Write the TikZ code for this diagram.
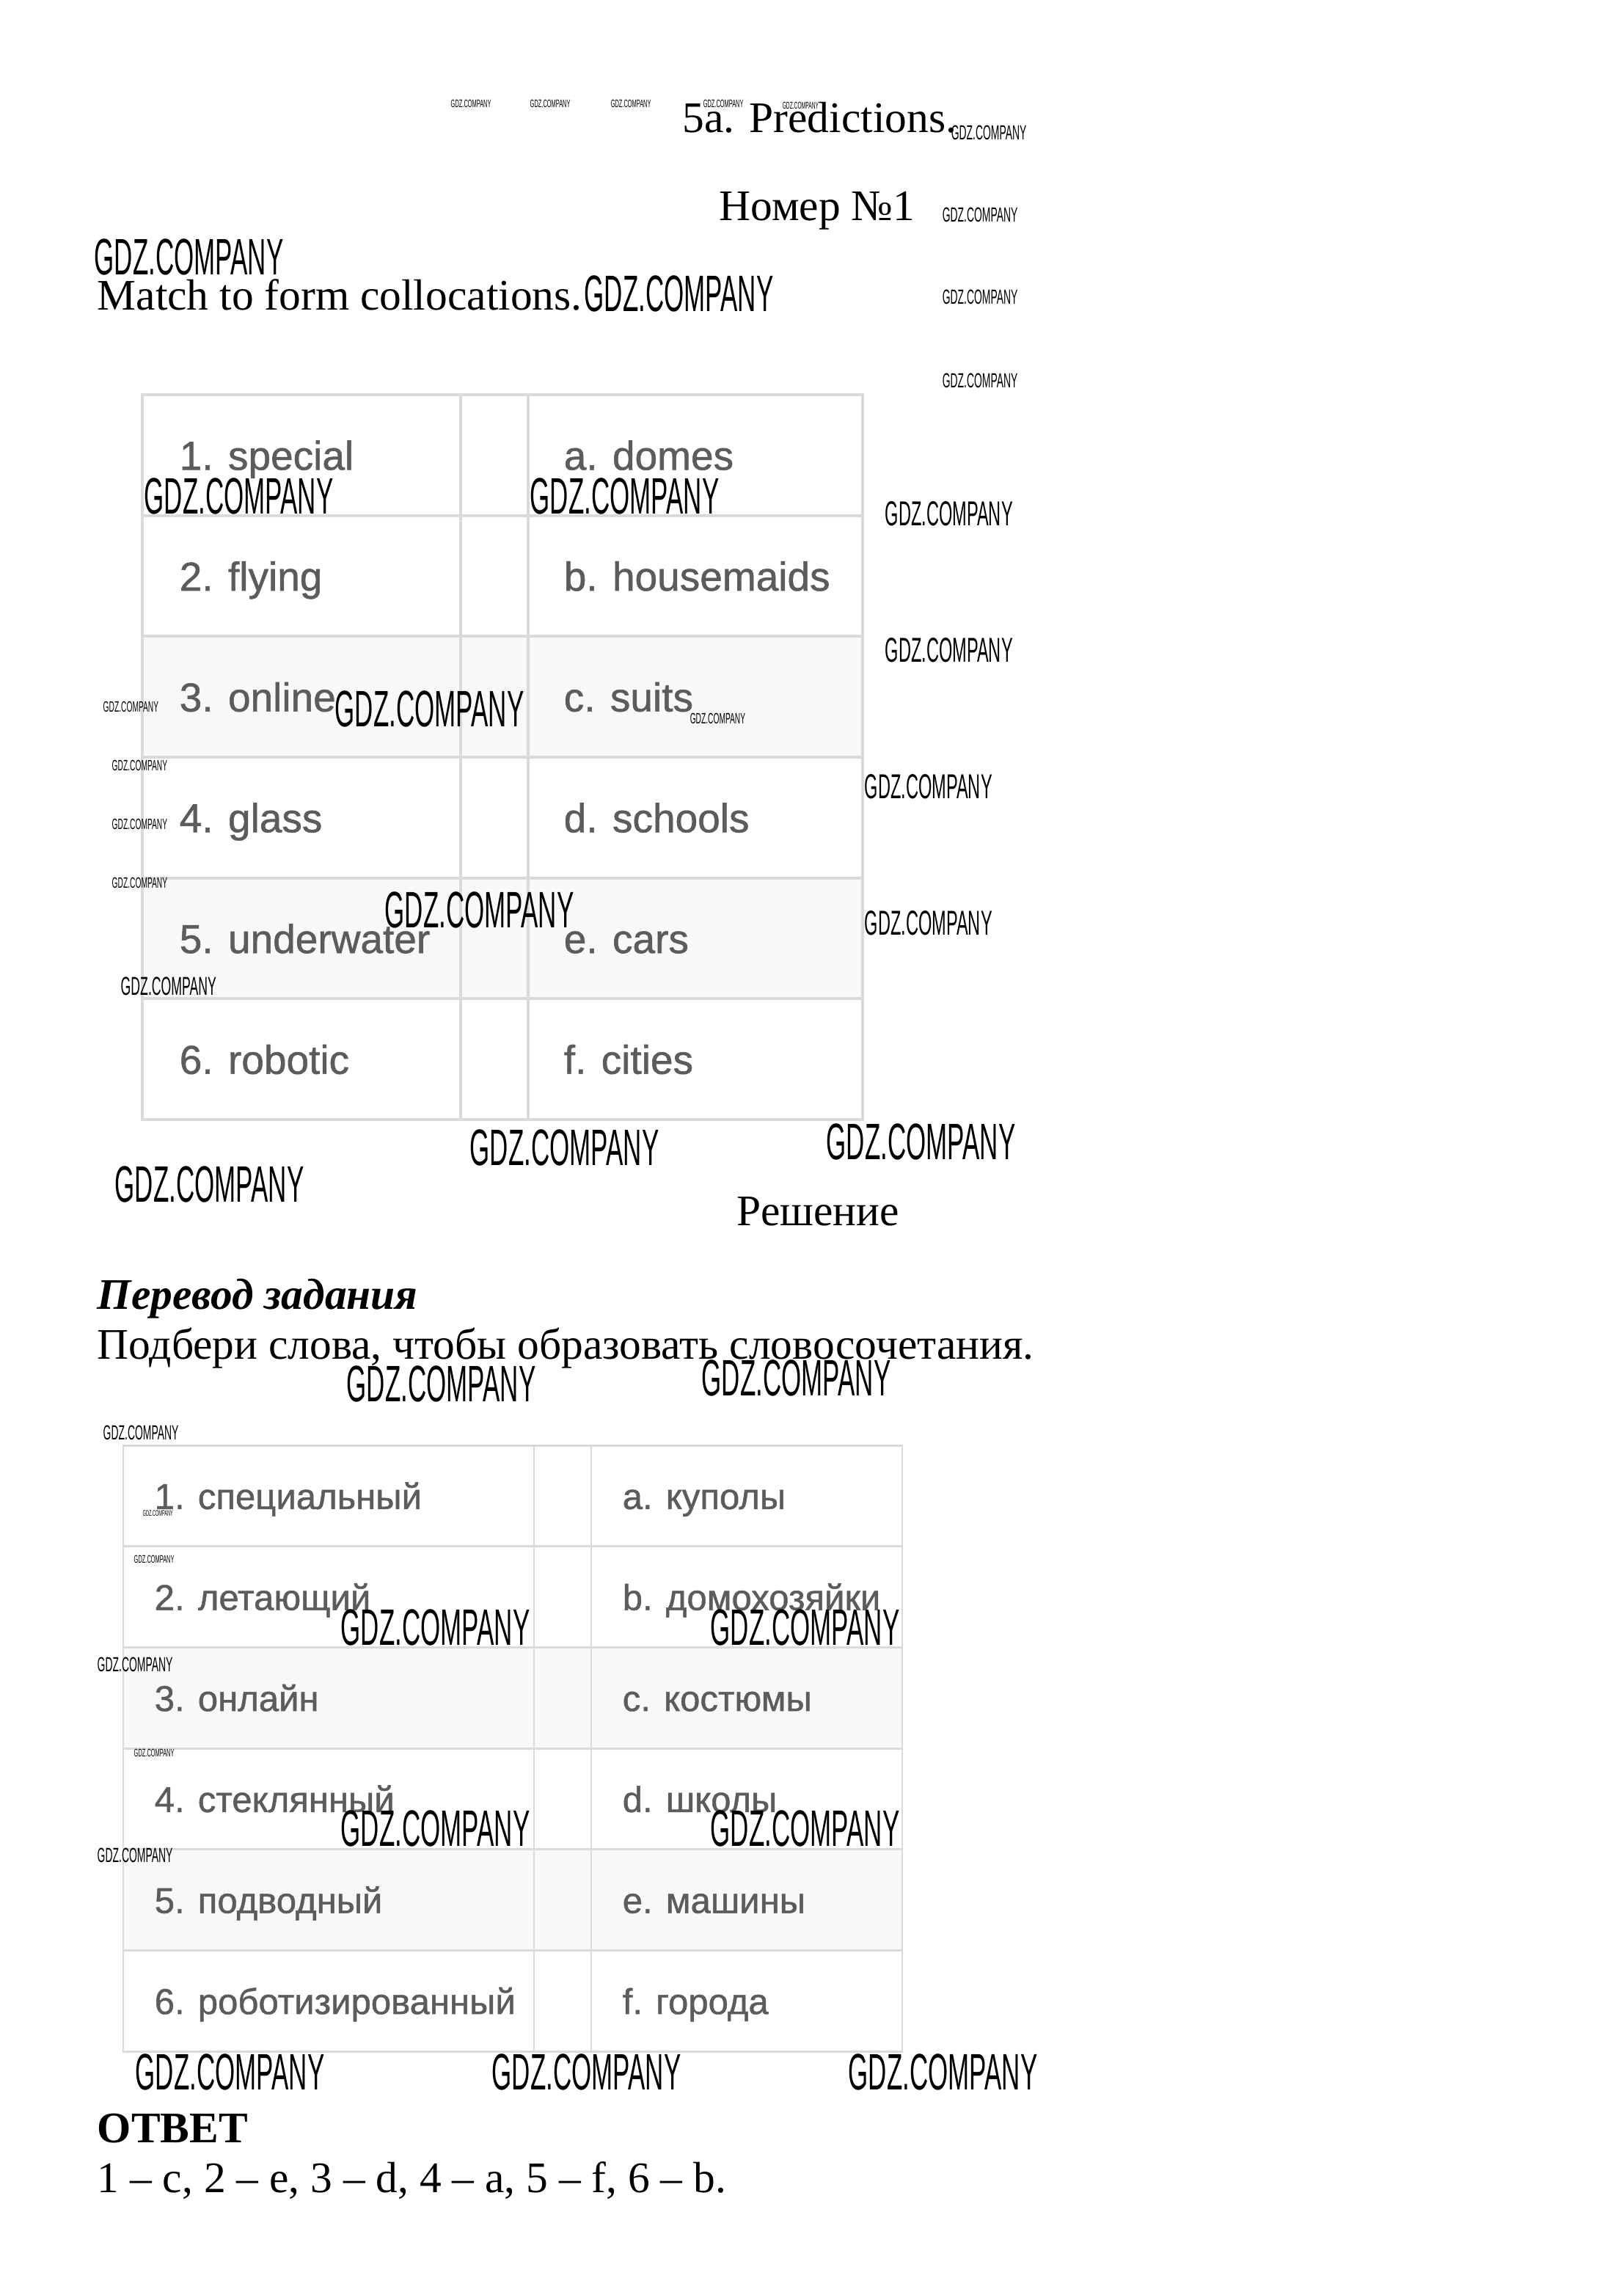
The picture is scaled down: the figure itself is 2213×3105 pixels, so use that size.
\documentclass[tikz,border=0pt]{standalone}
\usepackage{fontspec}
\setmainfont{Liberation Serif}
\newfontfamily\cellfont[FakeBold=1]{Liberation Sans}
\newfontfamily\wmfont[FakeStretch=0.5]{Liberation Sans}
\definecolor{rulegray}{HTML}{DADADA}
\definecolor{shadegray}{HTML}{F8F8F8}
\definecolor{celltext}{HTML}{5C5C5C}

\tikzset{
	body/.style={anchor=base west, inner sep=0pt, font=\fontsize{16}{19}\selectfont},
	wm/.style={anchor=base west, inner sep=0pt, font=\wmfont\fontsize{#1}{#1}\selectfont},
	cellA/.style={anchor=base west, inner sep=0pt, text=celltext, font=\cellfont\fontsize{14.8}{17}\selectfont},
	cellB/.style={anchor=base west, inner sep=0pt, text=celltext, font=\cellfont\fontsize{13.2}{16}\selectfont},
}

\begin{document}
\begin{tikzpicture}[x=0.269pt, y=-0.269pt]

	\useasboundingbox[fill=white] (0,0) rectangle (2213,3105);

	% headings
	\node[body] (title) at (930,180) {5a. Predictions.};
	\node[body] (number) at (980,300) {Номер №1};
	\node[body] (task) at (132,422) {Match to form collocations.};

	% first table
	\fill[shadegray] (194,867.3) rectangle (1176,1032);
	\fill[shadegray] (194,1196.7) rectangle (1176,1361.3);
	\draw[rulegray, line width=1.1pt] (194,538) rectangle (1176,1526);
	\draw[rulegray, line width=1.1pt] (628,538) -- (628,1526);
	\draw[rulegray, line width=1.1pt] (720,538) -- (720,1526);
	\foreach \i in {1,...,5}
		\draw[rulegray, line width=1.1pt] (194,{538+\i*164.67}) -- (1176,{538+\i*164.67});
	\foreach \l/\r [count=\i] in {1. special/a. domes, 2. flying/b. housemaids, 3. online/c. suits,
		4. glass/d. schools, 5. underwater/e. cars, 6. robotic/f. cities}{
		\node[cellA] (en\i) at (244,{538+(\i-0.5)*164.67+20}) {\l};
		\node[cellA] (enr\i) at (768,{538+(\i-0.5)*164.67+20}) {\r};
	}

	% solution
	\node[body] (solution) at (1004,1670) {Решение};
	\node[body, font=\fontsize{16}{19}\selectfont\bfseries\itshape] (transhead) at (132,1784) {Перевод задания};
	\node[body] (trans) at (132,1852) {Подбери слова, чтобы образовать словосочетания.};

	% second table
	\fill[shadegray] (168,2245.3) rectangle (1230,2383);
	\fill[shadegray] (168,2520.7) rectangle (1230,2658.3);
	\draw[rulegray, line width=0.8pt] (168,1970) rectangle (1230,2796);
	\draw[rulegray, line width=0.8pt] (728,1970) -- (728,2796);
	\draw[rulegray, line width=0.8pt] (806,1970) -- (806,2796);
	\foreach \i in {1,...,5}
		\draw[rulegray, line width=0.8pt] (168,{1970+\i*137.67}) -- (1230,{1970+\i*137.67});
	\foreach \l/\r [count=\i] in {1. специальный/a. куполы, 2. летающий/b. домохозяйки, 3. онлайн/c. костюмы,
		4. стеклянный/d. школы, 5. подводный/e. машины, 6. роботизированный/f. города}{
		\node[cellB] (ru\i) at (210,{1970+(\i-0.5)*137.67+18}) {\l};
		\node[cellB] (rur\i) at (848,{1970+(\i-0.5)*137.67+18}) {\r};
	}

	% answer
	\node[body, font=\fontsize{16}{19}\selectfont\bfseries] (anshead) at (132,2920) {ОТВЕТ};
	\node[body] (answer) at (132,2988) {1 – c, 2 – e, 3 – d, 4 – a, 5 – f, 6 – b.};

	% watermarks
	\foreach \x [count=\i] in {614,722,832,958}
		\node[wm=4] (wt\i) at (\x,146) {GDZ.COMPANY};
	\node[wm=3.6] (wt5) at (1066,148) {GDZ.COMPANY};
	\node[wm=7.5] (ws1) at (1296,190) {GDZ.COMPANY};
	\node[wm=7.5] (ws2) at (1284,302) {GDZ.COMPANY};
	\node[wm=7.5] (ws3) at (1284,414) {GDZ.COMPANY};
	\node[wm=7.5] (ws4) at (1284,528) {GDZ.COMPANY};
	\node[wm=18.8] (wl1) at (128,374) {GDZ.COMPANY};
	\node[wm=18.8] (wl2) at (796,424) {GDZ.COMPANY};
	\node[wm=18.8] (wl3) at (196,700) {GDZ.COMPANY};
	\node[wm=18.8] (wl4) at (722,700) {GDZ.COMPANY};
	\node[wm=12.7] (wm1) at (1206,716) {GDZ.COMPANY};
	\node[wm=12.7] (wm2) at (1206,902) {GDZ.COMPANY};
	\node[wm=5.5] (wx1) at (140,970) {GDZ.COMPANY};
	\node[wm=18.8] (wl5) at (456,990) {GDZ.COMPANY};
	\node[wm=5.5] (wx2) at (940,986) {GDZ.COMPANY};
	\node[wm=5.5] (wx3) at (152,1050) {GDZ.COMPANY};
	\node[wm=12.7] (wm3) at (1178,1088) {GDZ.COMPANY};
	\node[wm=5.5] (wx4) at (152,1130) {GDZ.COMPANY};
	\node[wm=5.5] (wx5) at (152,1210) {GDZ.COMPANY};
	\node[wm=18.8] (wl6) at (524,1264) {GDZ.COMPANY};
	\node[wm=12.7] (wm4) at (1178,1274) {GDZ.COMPANY};
	\node[wm=9.5] (wn1) at (164,1356) {GDZ.COMPANY};
	\node[wm=18.8] (wl7) at (640,1588) {GDZ.COMPANY};
	\node[wm=18.8] (wl8) at (1126,1580) {GDZ.COMPANY};
	\node[wm=18.8] (wl9) at (156,1638) {GDZ.COMPANY};
	\node[wm=18.8] (wl10) at (472,1910) {GDZ.COMPANY};
	\node[wm=18.8] (wl11) at (956,1902) {GDZ.COMPANY};
	\node[wm=7.5] (ws5) at (140,1962) {GDZ.COMPANY};
	\node[wm=3] (wt6) at (194,2066) {GDZ.COMPANY};
	\node[wm=4] (wt7) at (182,2130) {GDZ.COMPANY};
	\node[wm=18.8] (wl12) at (464,2242) {GDZ.COMPANY};
	\node[wm=18.8] (wl13) at (968,2242) {GDZ.COMPANY};
	\node[wm=7.5] (ws6) at (132,2278) {GDZ.COMPANY};
	\node[wm=4] (wt8) at (182,2394) {GDZ.COMPANY};
	\node[wm=18.8] (wl14) at (464,2516) {GDZ.COMPANY};
	\node[wm=18.8] (wl15) at (968,2516) {GDZ.COMPANY};
	\node[wm=7.5] (ws7) at (132,2538) {GDZ.COMPANY};
	\node[wm=18.8] (wl16) at (184,2848) {GDZ.COMPANY};
	\node[wm=18.8] (wl17) at (670,2848) {GDZ.COMPANY};
	\node[wm=18.8] (wl18) at (1156,2848) {GDZ.COMPANY};
\end{tikzpicture}
\end{document}
